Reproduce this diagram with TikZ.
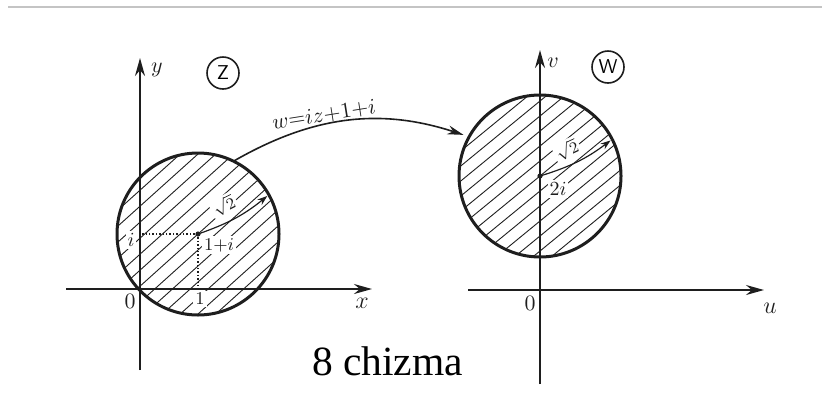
\documentclass[tikz,border=0pt]{standalone}
\usepackage{fontspec}
\newfontfamily\captionfont{Liberation Serif}
\usetikzlibrary{arrows.meta,calc}
\definecolor{inkgray}{HTML}{1E1E1E}
\definecolor{edgegray}{HTML}{C4C4C4}

\begin{document}
\begin{tikzpicture}[
  x=0.5pt, y=-0.5pt,
  font=\fontsize{11}{12}\selectfont,
  axis/.style={draw=inkgray,line width=1pt,-{Stealth[length=9pt,width=5pt]}},
  disk/.style={circle,draw=inkgray,line width=1.5pt,minimum size=81pt,inner sep=0pt,outer sep=0pt},
  hatch/.style={draw=inkgray,line width=0.45pt},
  radiusarrow/.style={draw=inkgray,line width=0.6pt,-{Stealth[length=5pt,width=3.5pt]},shorten >=1pt},
  mapflow/.style={draw=inkgray,line width=0.8pt,-{Stealth[length=8pt,width=4.5pt]},shorten >=3pt},
  guide/.style={draw=inkgray,line width=0.7pt,densely dotted},
  plane/.style={circle,draw=inkgray,line width=0.8pt,minimum size=16pt,inner sep=0pt,font=\fontsize{10}{11}\selectfont},
  lbl/.style={inner sep=0pt,text=inkgray},
  inlbl/.style={lbl,fill=white,inner sep=1pt}
]
  \useasboundingbox (0,0) rectangle (822,392);
  \draw[edgegray,line width=0.6pt] (8,7) -- (822,7);

  \coordinate (zc) at (198,234);
  \coordinate (wc) at (540,176);

  \begin{scope}
    \clip (zc) circle[radius=40.5pt];
    \foreach \k in {-128,-112,...,128}
      \draw[hatch] ($(zc)+(-100,\k+90)$) -- ($(zc)+(100,\k-90)$);
  \end{scope}
  \begin{scope}
    \clip (wc) circle[radius=40.5pt];
    \foreach \k in {-120,-105,...,120}
      \draw[hatch] ($(wc)+(-100,\k+82)$) -- ($(wc)+(100,\k-82)$);
  \end{scope}

  \coordinate (xs) at (66,289);
  \coordinate (xe) at (372,289);
  \coordinate (ys) at (140,370);
  \coordinate (ye) at (140,58);
  \coordinate (us) at (468,290);
  \coordinate (ue) at (764,290);
  \coordinate (vs) at (540,384);
  \coordinate (ve) at (540,50);

  \draw[axis] (xs) -- (xe);
  \draw[axis] (ys) -- (ye);
  \draw[axis] (us) -- (ue);
  \draw[axis] (vs) -- (ve);

  \coordinate (zi) at (140,234);
  \coordinate (zone) at (198,289);
  \draw[guide] (zc) -- (zi);
  \draw[guide] (zc) -- (zone);

  \node[disk] (zdisk) at (zc) {};
  \node[disk] (wdisk) at (wc) {};
  \fill[inkgray] (zc) circle[radius=1.3pt];
  \fill[inkgray] (wc) circle[radius=1.3pt];

  \draw[radiusarrow] (zc) to[bend right=10] (zdisk.29);
  \draw[radiusarrow] (wc) to[bend right=10] (wdisk.27);

  \draw[mapflow] (zdisk.64) to[bend left=24] (wdisk.151);

  \node[lbl] (ylbl) at (157,70) {$y$};
  \node[plane] (zplane) at (223,73) {$\mathsf{Z}$};
  \node[lbl,font=\fontsize{13}{14}\selectfont] (xlbl) at (362,303) {$x$};
  \node[lbl] (zorig) at (130,301) {$0$};
  \node[inlbl,font=\fontsize{9}{10}\selectfont] (onelbl) at (200,299) {$1$};
  \node[inlbl,font=\fontsize{10}{11}\selectfont] (ilbl) at (131,240) {$i$};
  \node[inlbl,font=\fontsize{9}{10}\selectfont] (cz) at (219,245) {$1{+}i$};
  \node[inlbl,rotate=27,font=\fontsize{8.5}{9}\selectfont] (rz) at (224,206) {$\sqrt{2}$};

  \node[lbl,rotate=9,font=\fontsize{11}{12}\selectfont] (maplbl) at (324,115) {$w{=}iz{+}1{+}i$};

  \node[lbl] (vlbl) at (553,63) {$v$};
  \node[plane] (wplane) at (608,67) {$\mathsf{W}$};
  \node[lbl,font=\fontsize{13}{14}\selectfont] (ulbl) at (770,308) {$u$};
  \node[lbl] (worig) at (530,303) {$0$};
  \node[inlbl,rotate=25,font=\fontsize{8.5}{9}\selectfont] (rw) at (567,150) {$\sqrt{2}$};
  \node[inlbl,font=\fontsize{10}{11}\selectfont] (cw) at (558,189) {$2i$};

  \node[anchor=base,inner sep=0pt,font=\captionfont\fontsize{20.75}{24}\selectfont] (cap) at (387.5,375) {8 chizma};
\end{tikzpicture}
\end{document}
